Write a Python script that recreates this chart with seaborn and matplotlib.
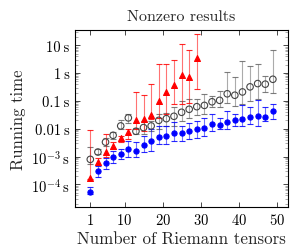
import matplotlib
matplotlib.use("Agg")
import matplotlib.pyplot as plt
import seaborn as sns
import pandas as pd
from matplotlib.ticker import FixedLocator, FixedFormatter, LogLocator, NullFormatter

# Values (running time in seconds)
blue_x = list(range(1, 50, 2))
blue_t = [5.5e-5, 2.9e-4, 5.8e-4, 9.6e-4, 1.2e-3, 1.8e-3, 1.6e-3, 2.5e-3, 3.6e-3, 5.2e-3,
          5.5e-3, 7.2e-3, 7.2e-3, 8.3e-3, 1.0e-2, 1.1e-2, 1.5e-2, 1.35e-2, 1.7e-2, 2.0e-2,
          2.3e-2, 2.7e-2, 2.9e-2, 2.6e-2, 4.4e-2]
blue_lo = [4.4e-5, 1.9e-4, 3.5e-4, 5.8e-4, 7.9e-4, 1.0e-3, 9.3e-4, 1.4e-3, 1.6e-3, 2.75e-3,
           2.75e-3, 3.6e-3, 3.6e-3, 4.2e-3, 4.8e-3, 5.5e-3, 8.3e-3, 9.5e-3, 9.5e-3, 1.26e-2,
           1.26e-2, 1.45e-2, 1.26e-2, 1.9e-2, 2.2e-2]
blue_hi = [7.7e-5, 4.6e-4, 9.1e-4, 1.6e-3, 1.8e-3, 3.6e-3, 3.2e-3, 5.5e-3, 9.5e-3, 1.26e-2,
           1.26e-2, 1.7e-2, 1.26e-2, 1.66e-2, 1.9e-2, 2.5e-2, 3.3e-2, 2.5e-2, 4.4e-2, 3.3e-2,
           6.9e-2, 5.8e-2, 0.107, 6.2e-2, 7.6e-2]

black_x = list(range(1, 50, 2))
black_t = [7.9e-4, 1.45e-3, 3.3e-3, 5.8e-3, 1.26e-2, 2.45e-2, 8.1e-3, 1.1e-2, 1.26e-2, 2.0e-2,
           2.3e-2, 2.8e-2, 3.9e-2, 5.0e-2, 6.2e-2, 6.9e-2, 9.3e-2, 0.105, 0.18, 0.16,
           0.21, 0.32, 0.42, 0.40, 0.60]
black_lo = [5.2e-4, 1.2e-3, 2.4e-3, 4.4e-3, 1.0e-2, 1.66e-2, 6.3e-3, 6.3e-3, 8.3e-3, 9.5e-3,
            1.3e-2, 1.3e-2, 1.9e-2, 2.5e-2, 3.0e-2, 3.3e-2, 5.8e-2, 5.8e-2, 8.7e-2, 6.6e-2,
            7.6e-2, 0.10, 0.115, 0.21, 0.20]
black_hi = [2.2e-3, 1.9e-3, 4.8e-3, 7.6e-3, 2.0e-2, 3.5e-2, 1.1e-2, 1.9e-2, 1.9e-2, 3.3e-2,
            3.8e-2, 5.9e-2, 0.10, 0.115, 0.12, 0.17, 0.15, 0.23, 1.1, 0.72,
            2.8, 1.8, 2.2, 0.8, 7.0]

red_x = list(range(1, 30, 2))
red_t = [1.7e-4, 6.3e-4, 1.4e-3, 2.3e-3, 4.8e-3, 7.8e-3, 2.0e-2, 2.3e-2, 3.1e-2, 0.10,
         0.21, 0.38, 0.87, 0.71, 3.4]
red_lo = [1.5e-4, 4.8e-4, 1.0e-3, 1.8e-3, 3.3e-3, 4.2e-3, 9.5e-3, 8.1e-3, 2.2e-2, 2.5e-2,
          3.3e-2, 7.8e-2, 7.6e-2, 8.7e-2, 0.26]
red_hi = [8.9e-3, 8.7e-4, 6.3e-3, 3.3e-3, 5.5e-3, 1.0e-2, 0.21, 0.16, 0.40, 2.1,
          2.2, 3.0, 11.0, 6.8, 25.0]

x_ticks = [1, 10, 20, 30, 40, 50]
y_ticks = [1e-4, 1e-3, 1e-2, 1e-1, 1, 10]
y_tick_labels = [r"$10^{-4}\,$s", r"$10^{-3}\,$s", "0.01\u2009s", "0.1\u2009s", "1\u2009s", "10\u2009s"]

sns.set_theme(style="ticks")
plt.rcParams["font.family"] = ["cmr10", "DejaVu Serif"]
plt.rcParams["mathtext.fontset"] = "cm"
plt.rcParams["axes.formatter.use_mathtext"] = True
plt.rcParams["axes.unicode_minus"] = False

fig = plt.figure(figsize=(2.91, 2.51), dpi=100)
ax = fig.add_axes([0.258, 0.173, 0.732, 0.7035])


def draw_series(x, t, lo, hi, color, ecolor, marker, face, size):
    df = pd.DataFrame({"x": x, "t": t, "lo": lo, "hi": hi})
    yerr = [df["t"] - df["lo"], df["hi"] - df["t"]]
    _, caps, bars = ax.errorbar(df["x"], df["t"], yerr=yerr, fmt="none", ecolor=ecolor,
                                elinewidth=0.8, capsize=2.2, capthick=0.8, zorder=2)
    for b in bars:
        b.set_alpha(0.55)
    for c in caps:
        c.set_alpha(0.85)
    sns.scatterplot(data=df, x="x", y="t", ax=ax, marker=marker, s=size, color=face,
                    edgecolor=color, linewidth=0.8, zorder=3, legend=False)


draw_series(black_x, black_t, black_lo, black_hi, "#444444", "#666666", "o", "none", 22)
draw_series(red_x, red_t, red_lo, red_hi, "#ff0000", "#ff0000", "^", "#ff0000", 18)
draw_series(blue_x, blue_t, blue_lo, blue_hi, "#0000ff", "#0000ff", "o", "#0000ff", 14)

ax.set_yscale("log")
ax.set_xlim(-3, 53)
ax.set_ylim(10 ** -4.8, 10 ** 1.55)
ax.xaxis.set_major_locator(FixedLocator(x_ticks))
ax.yaxis.set_major_locator(FixedLocator(y_ticks))
ax.yaxis.set_major_formatter(FixedFormatter(y_tick_labels))
ax.yaxis.set_minor_locator(LogLocator(base=10, subs=range(2, 10), numticks=20))
ax.yaxis.set_minor_formatter(NullFormatter())
ax.tick_params(which="both", direction="in", top=True, right=True, labelsize=10.5,
               colors="black", width=0.5)
ax.tick_params(which="major", length=3.5, pad=4)
ax.tick_params(which="minor", length=2, color="#888888")
for s in ax.spines.values():
    s.set_linewidth(0.8)
    s.set_color("black")

ax.set_xlabel("Number of Riemann tensors", fontsize=12.2, labelpad=2.5)
ax.set_ylabel("Running time", fontsize=12, labelpad=3.5)
ax.set_title("Nonzero results", fontsize=11.5, pad=7)

fig.savefig("out.png", dpi=100)
